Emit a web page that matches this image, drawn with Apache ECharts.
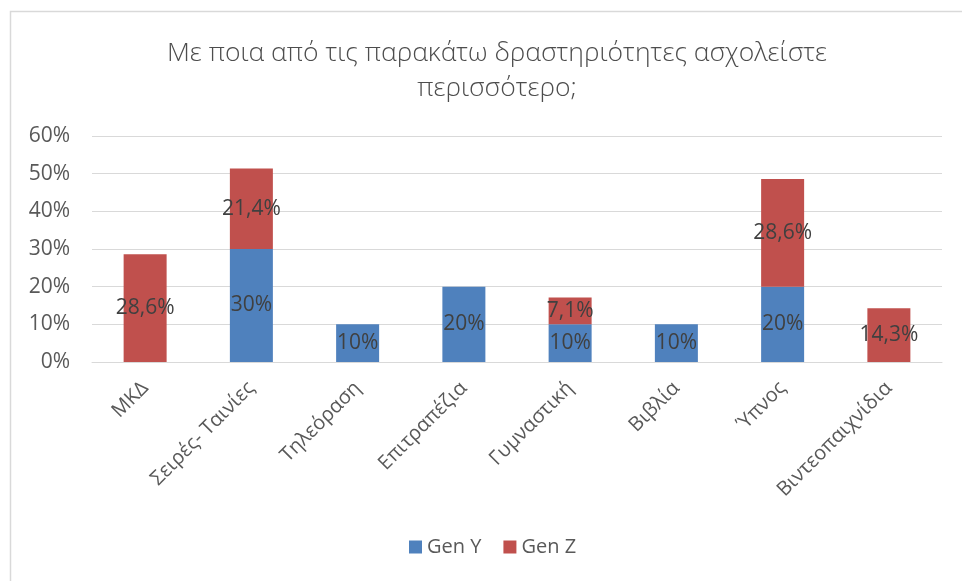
<!DOCTYPE html>
<html>
<head>
<meta charset="utf-8">
<script src="https://cdn.jsdelivr.net/npm/echarts@6/dist/echarts.min.js"></script>
<style>
  html, body { margin: 0; padding: 0; background: #fff; }
  #chart { width: 962px; height: 581px; }
</style>
</head>
<body>
<div id="chart"></div>
<script>
// categories and values (percent)
const categories = ["ΜΚΔ", "Σειρές- Ταινίες", "Τηλεόραση", "Επιτραπέζια", "Γυμναστική", "Βιβλία", "Ύπνος", "Βιντεοπαιχνίδια"];
const genY = [0, 30, 10, 20, 10, 10, 20, 0];
const genZ = [28.6, 21.4, 0, 0, 7.1, 0, 28.6, 14.3];
const yTicks = [0, 10, 20, 30, 40, 50, 60];

const font = "Open Sans";

// excel style label: comma decimal, hide zeros
function pct(p) {
    if (!p.value) return "";
    return String(p.value).replace(".", ",") + "%";
}

const chart = echarts.init(document.getElementById("chart"), null, { renderer: "canvas" });

const labelStyle = {
    show: true,
    position: "inside",
    formatter: pct,
    color: "#404040",
    fontFamily: font,
    fontSize: 21,
};

chart.setOption({
    animation: false,
    textStyle: { fontFamily: font },
    title: {
        text: "Με ποια από τις παρακάτω δραστηριότητες ασχολείστε\nπερισσότερο;",
        left: 492,
        top: 31,
        textAlign: "center",
        textStyle: {
            fontFamily: font,
            fontWeight: 300,
            fontSize: 26.5,
            lineHeight: 35,
            color: "#4d4d4d",
        },
    },
    legend: {
        bottom: 19,
        left: 404,
        itemWidth: 13,
        itemHeight: 13,
        itemGap: 22,
        icon: "rect",
        textStyle: { fontFamily: font, fontSize: 20, color: "#595959" },
        data: ["Gen Y", "Gen Z"],
    },
    grid: { left: 92, right: 20, top: 136, bottom: 219 },
    xAxis: {
        type: "category",
        data: categories,
        axisLine: { lineStyle: { color: "#d9d9d9", width: 1 } },
        axisTick: { show: false },
        axisLabel: {
            rotate: 45,
            interval: 0,
            margin: 23,
            color: "#595959",
            fontFamily: font,
            fontSize: 20,
        },
    },
    yAxis: {
        type: "value",
        min: yTicks[0],
        max: yTicks[yTicks.length - 1],
        interval: 10,
        axisLine: { show: false },
        axisTick: { show: false },
        splitLine: { lineStyle: { color: "#d9d9d9", width: 1 } },
        axisLabel: {
            formatter: "{value}%",
            margin: 22,
            color: "#595959",
            fontFamily: font,
            fontSize: 21,
        },
    },
    series: [
        {
            name: "Gen Y",
            type: "bar",
            stack: "all",
            barWidth: 43,
            data: genY,
            itemStyle: { color: "#4f81bd" },
            label: labelStyle,
        },
        {
            name: "Gen Z",
            type: "bar",
            stack: "all",
            barWidth: 43,
            data: genZ,
            itemStyle: { color: "#c0504d" },
            label: labelStyle,
        },
    ],
    graphic: [
        {
            type: "rect",
            shape: { x: 10.5, y: 11.5, width: 1000, height: 600 },
            style: { fill: "none", stroke: "#d9d9d9", lineWidth: 1.5 },
            silent: true,
        },
    ],
});
</script>
</body>
</html>
